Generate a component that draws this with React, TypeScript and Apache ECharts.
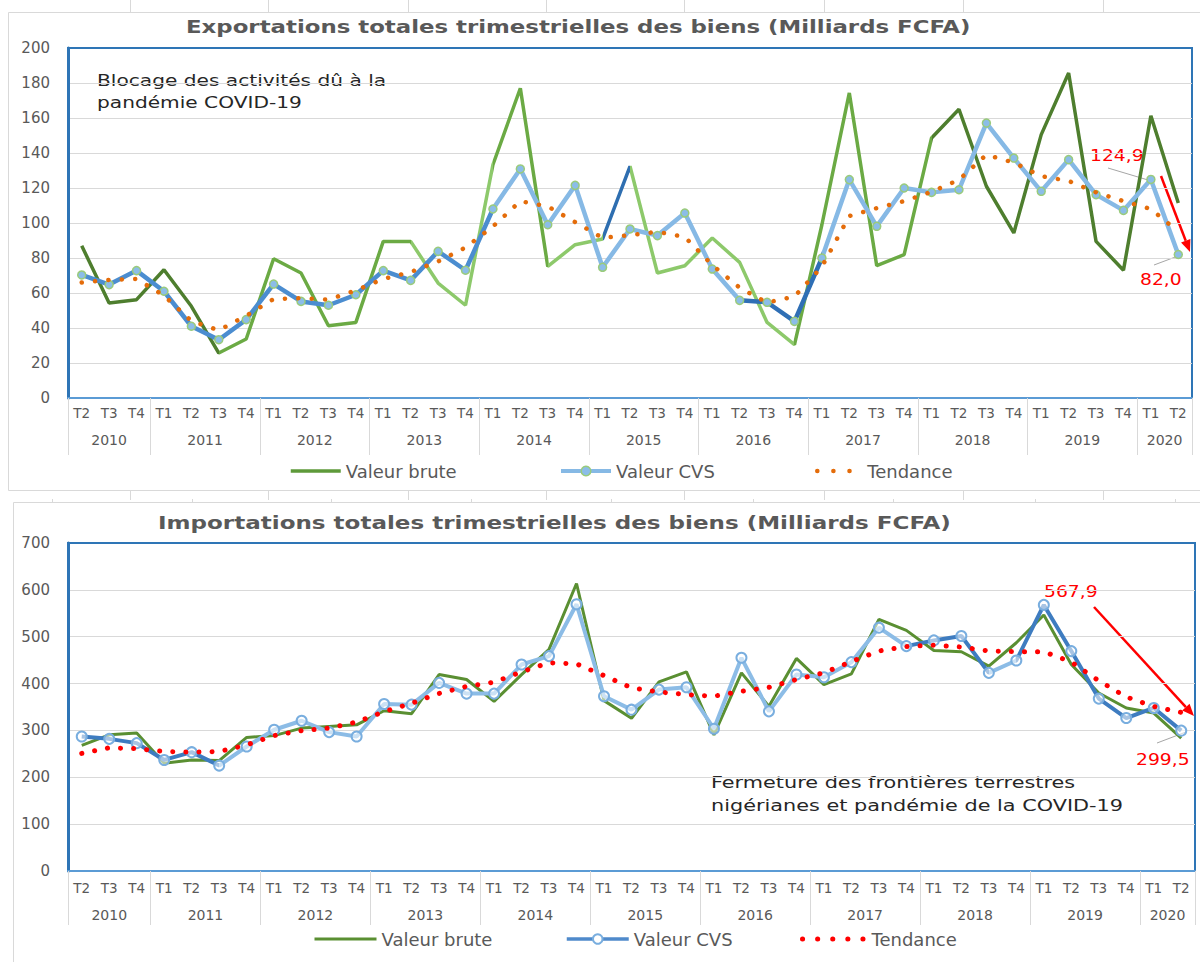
import React, { useEffect, useRef } from 'react';
import * as echarts from 'echarts';

// ---------------- DATA ----------------
const YEARS = ['2010', '2011', '2012', '2013', '2014', '2015', '2016', '2017', '2018', '2019', '2020'];
const YEAR_QUARTER_COUNTS = [3, 4, 4, 4, 4, 4, 4, 4, 4, 4, 2];
const QUARTER_LABELS = [
  'T2', 'T3', 'T4',
  'T1', 'T2', 'T3', 'T4',
  'T1', 'T2', 'T3', 'T4',
  'T1', 'T2', 'T3', 'T4',
  'T1', 'T2', 'T3', 'T4',
  'T1', 'T2', 'T3', 'T4',
  'T1', 'T2', 'T3', 'T4',
  'T1', 'T2', 'T3', 'T4',
  'T1', 'T2', 'T3', 'T4',
  'T1', 'T2', 'T3', 'T4',
  'T1', 'T2',
];

// Exportations (Milliards FCFA)
const EXP_BRUTE = [
  87, 54.3, 56.2,
  73.3, 52.4, 25.7, 33.7,
  79.6, 71.4, 41.3, 43.2,
  89.5, 89.5, 65.7, 53,
  133.3, 177, 75.2, 87.6,
  90.9, 132.4, 71.4, 75.6,
  91.4, 77.5, 43.2, 30.5,
  99, 174.3, 75.6, 81.9,
  148.6, 165, 121, 94.3,
  150.5, 185.7, 89.5, 73,
  161.3, 111.4,
];
const EXP_CVS = [
  70.3, 64.8, 72.8,
  61, 41, 33.3, 44.8,
  65.1, 55.2, 53, 59,
  72.8, 67.2, 83.8, 73,
  108, 130.9, 99, 121.5,
  74.7, 96.6, 92.8, 105.7,
  73.7, 55.8, 54.7, 43.8,
  80, 124.8, 98.1, 120,
  117.5, 119, 157.1, 137.1,
  118.1, 136.2, 116.2, 107.2,
  124.9, 82.0,
];
const EXP_TENDANCE = [
  66, 67.5, 68,
  58.5, 44, 38.7, 47,
  56.6, 57, 56.2, 61.5,
  68, 72, 78, 86,
  98, 112.5, 109.5, 100.5,
  91.5, 93, 95, 92,
  76, 63, 54.5, 58,
  75, 104, 108.5, 112.5,
  117.8, 124.7, 139, 134.5,
  126.8, 124, 117.5, 112.5,
  108, 95,
];

// Importations (Milliards FCFA)
const IMP_BRUTE = [
  267.9, 290.7, 294.3,
  230, 237, 235.7, 285,
  289, 305, 308.6, 312,
  342, 335.7, 419.3, 408.6,
  362, 419, 472.9, 613.6,
  363.6, 326, 403.6, 425,
  290.7, 422.9, 351.4, 453.6,
  397.9, 420.7, 537.1, 513.6,
  470.7, 467.9, 437.1, 487.1,
  546.4, 440.7, 380, 347.9,
  337.1, 283.6,
];
const IMP_CVS = [
  287, 282, 272.9,
  237, 253.6, 225, 265.7,
  301.4, 320.7, 296.4, 287.1,
  356.4, 355, 401.4, 378.6,
  378.6, 440.7, 458.6, 569.3,
  372.9, 344.3, 387.1, 392.1,
  303.6, 455, 340.7, 419.3,
  413.6, 445.7, 519.3, 480,
  492.1, 501.4, 422.9, 449.3,
  567.9, 469.3, 367.9, 326.4,
  347.9, 299.5,
];
const IMP_TENDANCE = [
  251, 263, 261,
  255, 253.5, 255, 269,
  289, 299.5, 305, 318,
  340, 358, 379, 394,
  403, 425, 444.5, 442,
  417, 391, 382, 376.4,
  373, 383.5, 392, 408.6,
  423, 447, 469.5, 479,
  482, 478, 469.5, 468,
  468, 446, 406, 371.5,
  351, 338.6,
];

const EXP_Y_MAX = 200;
const EXP_Y_STEP = 20;
const IMP_Y_MAX = 700;
const IMP_Y_STEP = 100;

// ---------------- STYLES ----------------
const FONT = '"DejaVu Sans", "Open Sans", sans-serif';
const GREY = '#595959';
const N = QUARTER_LABELS.length;

type Seg = [number, number, string];
const DARK_G = '#4E7E2E';
const MID_G = '#6BAA44';
const LIGHT_G = '#8DC96B';
const EXP_BRUTE_SEGMENTS: Seg[] = [
  [0, 5, DARK_G], [5, 12, MID_G], [12, 15, LIGHT_G], [15, 17, MID_G], [17, 19, LIGHT_G],
  [19, 20, '#2E6EB0'], [20, 26, LIGHT_G], [26, 31, MID_G], [31, 40, DARK_G],
];
const EXP_CVS_SEGMENTS: Seg[] = [
  [0, 15, '#4B8DD0'], [15, 24, '#86B9E5'], [24, 27, '#2F6FB5'], [27, 40, '#86B9E5'],
];
const IMP_CVS_SEGMENTS: Seg[] = [
  [0, 5, '#3E7CC0'], [5, 30, '#8CBCE6'], [30, 33, '#3E7CC0'], [33, 34, '#8CBCE6'], [34, 40, '#3E7CC0'],
];

function segGradient(segs: Seg[]) {
  const stops: { offset: number; color: string }[] = [];
  segs.forEach(([a, b, c]) => {
    stops.push({ offset: a / (N - 1), color: c });
    stops.push({ offset: b / (N - 1), color: c });
  });
  return new echarts.graphic.LinearGradient(0, 0, 1, 0, stops);
}

// year row: 2N+1 slots on a boundaryGap:false axis
const YEAR_SLOT_LABELS: string[] = new Array(2 * N + 1).fill('');
const YEAR_BOUNDARIES = new Set<number>();
(() => {
  let start = 0;
  YEARS.forEach((y, k) => {
    const c = YEAR_QUARTER_COUNTS[k];
    YEAR_BOUNDARIES.add(2 * start);
    YEAR_SLOT_LABELS[2 * start + c] = y;
    start += c;
  });
  YEAR_BOUNDARIES.add(2 * start);
})();
const YEAR_SLOT_KEYS = YEAR_SLOT_LABELS.map((_, j) => 's' + j);

function quarterAxis(gridIndex: number, margin: number) {
  return {
    type: 'category',
    gridIndex,
    data: QUARTER_LABELS,
    boundaryGap: true,
    position: 'bottom',
    axisLine: { show: true, lineStyle: { color: '#5B9BD5', width: 2 } },
    axisTick: { show: false },
    axisLabel: { interval: 0, margin, fontFamily: FONT, fontSize: 13.5, color: GREY },
    splitLine: { show: false },
  };
}

function yearAxis(gridIndex: number, margin: number, tickLen: number) {
  return {
    type: 'category',
    gridIndex,
    data: YEAR_SLOT_KEYS,
    boundaryGap: false,
    position: 'bottom',
    offset: 0,
    axisLine: { show: false },
    axisTick: {
      show: true,
      interval: (i: number) => YEAR_BOUNDARIES.has(i),
      length: tickLen,
      lineStyle: { color: '#D9D9D9', width: 1 },
    },
    axisLabel: {
      interval: (i: number) => YEAR_SLOT_LABELS[i] !== '',
      formatter: (_v: string, i: number) => YEAR_SLOT_LABELS[i],
      margin,
      fontFamily: FONT,
      fontSize: 14,
      color: GREY,
    },
    splitLine: { show: false },
  };
}

function valueAxis(gridIndex: number, max: number, step: number) {
  return {
    type: 'value',
    gridIndex,
    min: 0,
    max,
    interval: step,
    axisLine: { show: true, lineStyle: { color: '#2E75B6', width: 3 } },
    axisTick: { show: false },
    axisLabel: { margin: 18, fontFamily: FONT, fontSize: 15, color: GREY },
    splitLine: { show: true, showMaxLine: false, lineStyle: { color: '#D9D9D9', width: 1 } },
  };
}

function arrow(x1: number, y1: number, x2: number, y2: number, color: string) {
  const dx = x2 - x1;
  const dy = y2 - y1;
  const len = Math.hypot(dx, dy);
  const ux = dx / len;
  const uy = dy / len;
  const hl = 12;
  const hw = 5;
  const bx = x2 - ux * hl;
  const by = y2 - uy * hl;
  return [
    { type: 'line', silent: true, shape: { x1, y1, x2: bx, y2: by }, style: { stroke: color, lineWidth: 2.5 } },
    {
      type: 'polygon',
      silent: true,
      shape: { points: [[x2, y2], [bx - uy * hw, by + ux * hw], [bx + uy * hw, by - ux * hw]] },
      style: { fill: color },
    },
  ];
}

function txt(text: string, x: number, y: number, size: number, color: string, scaleX: number, extra: any = {}) {
  return {
    type: 'text',
    silent: true,
    x,
    y,
    scaleX,
    style: {
      text,
      x: 0,
      y: 0,
      fontFamily: FONT,
      fontSize: size,
      fill: color,
      align: 'left',
      verticalAlign: 'middle',
      ...extra,
    },
  };
}

function leader(x1: number, y1: number, x2: number, y2: number) {
  return { type: 'line', silent: true, shape: { x1, y1, x2, y2 }, style: { stroke: '#A6A6A6', lineWidth: 1 } };
}

function buildOption() {
  const legendText = { fontFamily: FONT, fontSize: 18, color: GREY };
  const legendBase = { padding: 0, selectedMode: false, itemHeight: 12, textStyle: legendText };

  const cellXTop = [130, 268, 408, 546, 684, 824, 963, 1103];
  const cellXMid = [52, 192, 331, 471, 611, 753, 893, 1035, 1175];

  const graphics: any[] = [
    // panel frames
    { type: 'rect', silent: true, shape: { x: 8.5, y: 12.5, width: 1200, height: 478 }, style: { fill: 'none', stroke: '#D9D9D9', lineWidth: 1 } },
    { type: 'rect', silent: true, shape: { x: 13.5, y: 502.5, width: 1200, height: 480 }, style: { fill: 'none', stroke: '#D9D9D9', lineWidth: 1 } },
    ...cellXTop.map((x) => ({ type: 'line', silent: true, shape: { x1: x + 0.5, y1: 0, x2: x + 0.5, y2: 12 }, style: { stroke: '#D9D9D9', lineWidth: 1 } })),
    ...cellXTop.map((x) => ({ type: 'line', silent: true, shape: { x1: x + 0.5, y1: 491, x2: x + 0.5, y2: 500 }, style: { stroke: '#D9D9D9', lineWidth: 1 } })),
    ...cellXMid.map((x) => ({ type: 'line', silent: true, shape: { x1: x + 0.5, y1: 499, x2: x + 0.5, y2: 502 }, style: { stroke: '#D9D9D9', lineWidth: 1 } })),

    // titles
    txt('Exportations totales trimestrielles des biens (Milliards FCFA)', 186, 27, 17, GREY, 1.345, { fontWeight: 'bold' }),
    txt('Importations totales trimestrielles des biens (Milliards FCFA)', 158, 523, 17, GREY, 1.355, { fontWeight: 'bold' }),

    // annotations (top)
    txt('Blocage des activités dû à la\npandémie COVID-19', 97, 69, 16, '#262626', 1.26, { verticalAlign: 'top', lineHeight: 22 }),
    txt('124,9', 1090, 156, 15, '#FF0000', 1.25),
    txt('82,0', 1140, 280, 15, '#FF0000', 1.25),
    leader(1108, 168, 1148, 180),
    leader(1154, 265, 1178, 256),
    ...arrow(1161, 176, 1190, 252, '#FF0000'),

    // annotations (bottom)
    txt('567,9', 1044, 592, 15, '#FF0000', 1.25),
    txt('299,5', 1136, 760, 15, '#FF0000', 1.25),
    leader(1157, 743, 1186, 732),
    ...arrow(1094, 607, 1194, 716, '#FF0000'),
    txt('Fermeture des frontières terrestres\nnigérianes et pandémie de la COVID-19', 711, 771, 16, '#262626', 1.3, { verticalAlign: 'top', lineHeight: 23 }),
  ];

  return {
    animation: false,
    backgroundColor: '#ffffff',
    textStyle: { fontFamily: FONT },
    grid: [
      { left: 68, top: 48, width: 1124, height: 350, show: true, borderColor: '#2E75B6', borderWidth: 2, backgroundColor: 'transparent' },
      { left: 68, top: 543, width: 1127, height: 328, show: true, borderColor: '#2E75B6', borderWidth: 2, backgroundColor: 'transparent' },
    ],
    xAxis: [
      quarterAxis(0, 8),
      yearAxis(0, 35, 57),
      quarterAxis(1, 10),
      yearAxis(1, 37, 54),
    ],
    yAxis: [valueAxis(0, EXP_Y_MAX, EXP_Y_STEP), valueAxis(1, IMP_Y_MAX, IMP_Y_STEP)],
    legend: [
      {
        ...legendBase, left: 289, top: 462, itemWidth: 50,
        data: [{ name: 'Valeur brute', lineStyle: { color: '#5E9A3A', width: 3.5, type: 'solid' }, itemStyle: { opacity: 0 } }],
      },
      {
        ...legendBase, left: 559, top: 462, itemWidth: 50,
        data: [{ name: 'Valeur CVS', lineStyle: { color: '#86B9E5', width: 4, type: 'solid' }, itemStyle: { color: '#8BBDE8', borderColor: '#9ACB7C', borderWidth: 1.5, opacity: 1 } }],
      },
      {
        ...legendBase, left: 815, top: 462, itemWidth: 45,
        data: [{ name: 'Tendance', lineStyle: { color: '#E46C0A', width: 4.5, type: [0.1, 16], cap: 'round' }, itemStyle: { opacity: 0 } }],
      },
      {
        ...legendBase, left: 313, top: 930, itemWidth: 62,
        data: [{ name: 'Valeur brute', lineStyle: { color: '#5A8F32', width: 3, type: 'solid' }, itemStyle: { opacity: 0 } }],
      },
      {
        ...legendBase, left: 565, top: 930, itemWidth: 62,
        data: [{ name: 'Valeur CVS', lineStyle: { color: '#4F8ACB', width: 3.5, type: 'solid' }, itemStyle: { color: '#ffffff', borderColor: '#79AEDF', borderWidth: 2, opacity: 1 } }],
      },
      {
        ...legendBase, left: 800, top: 930, itemWidth: 64,
        data: [{ name: 'Tendance', lineStyle: { color: '#FF0000', width: 5, type: [0.1, 15], cap: 'round' }, itemStyle: { opacity: 0 } }],
      },
    ],
    series: [
      {
        name: 'Valeur brute', type: 'line', xAxisIndex: 0, yAxisIndex: 0, data: EXP_BRUTE,
        symbol: 'none', silent: true, z: 2,
        lineStyle: { width: 3.5, color: segGradient(EXP_BRUTE_SEGMENTS) },
      },
      {
        name: 'Valeur CVS', type: 'line', xAxisIndex: 0, yAxisIndex: 0, data: EXP_CVS,
        symbol: 'circle', symbolSize: 8, showAllSymbol: true, silent: true, z: 3,
        itemStyle: { color: '#8BBDE8', borderColor: '#9ACB7C', borderWidth: 1.5 },
        lineStyle: { width: 4.5, color: segGradient(EXP_CVS_SEGMENTS) },
      },
      {
        name: 'Tendance', type: 'line', xAxisIndex: 0, yAxisIndex: 0, data: EXP_TENDANCE,
        symbol: 'none', silent: true, z: 4,
        lineStyle: { color: '#E46C0A', width: 4.5, type: [0.1, 13.3], cap: 'round' },
      },
      {
        name: 'Valeur brute', type: 'line', xAxisIndex: 2, yAxisIndex: 1, data: IMP_BRUTE,
        symbol: 'none', silent: true, z: 2,
        lineStyle: { width: 3, color: '#5A8F32' },
      },
      {
        name: 'Valeur CVS', type: 'line', xAxisIndex: 2, yAxisIndex: 1, data: IMP_CVS,
        symbol: 'circle', symbolSize: 10, showAllSymbol: true, silent: true, z: 3,
        itemStyle: { color: 'rgba(255,255,255,0.55)', borderColor: '#79AEDF', borderWidth: 2 },
        lineStyle: { width: 4, color: segGradient(IMP_CVS_SEGMENTS) },
      },
      {
        name: 'Tendance', type: 'line', xAxisIndex: 2, yAxisIndex: 1, data: IMP_TENDANCE,
        symbol: 'none', silent: true, z: 4,
        lineStyle: { color: '#FF0000', width: 5, type: [0.1, 13], cap: 'round' },
      },
    ],
    graphic: { elements: graphics },
  };
}

export default function App() {
  const ref = useRef<HTMLDivElement>(null);
  useEffect(() => {
    document.body.style.margin = '0';
    if (!ref.current) return;
    const chart = echarts.init(ref.current, undefined, { renderer: 'svg' });
    chart.setOption(buildOption() as any);
    return () => {
      chart.dispose();
    };
  }, []);
  return <div ref={ref} style={{ width: 1200, height: 962 }} />;
}
